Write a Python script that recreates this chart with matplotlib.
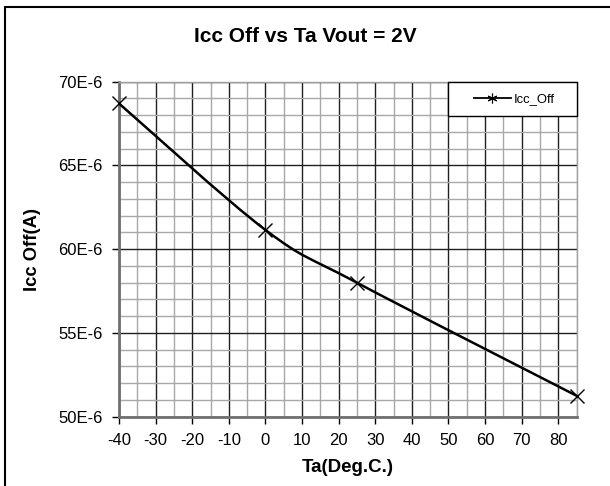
import numpy as np
import matplotlib.pyplot as plt
from matplotlib.path import Path
from matplotlib.patches import PathPatch, Rectangle
from matplotlib.lines import Line2D
from matplotlib.ticker import MultipleLocator, FuncFormatter

plt.rcParams['font.family'] = ['Liberation Sans', 'DejaVu Sans']
plt.rcParams['axes.unicode_minus'] = False

# data
ta = [-40, 0, 25, 85]
icc_off = [68.7e-6, 61.15e-6, 58.0e-6, 51.25e-6]

fig = plt.figure(figsize=(6.1, 4.86), dpi=100)
ax = fig.add_axes([119 / 610, 1 - 416.7 / 486, (576.6 - 119) / 610, (416.7 - 81.7) / 486])

# outer chart border (Excel style)
fig.patches.append(Rectangle((5 / 610, -0.05), 1.1, 1 - 6.5 / 486 + 0.05, transform=fig.transFigure,
                             fill=False, edgecolor='black', linewidth=1.5))

ax.set_xlim(-40, 85)
ax.set_ylim(50e-6, 70e-6)
ax.xaxis.set_major_locator(MultipleLocator(10))
ax.xaxis.set_minor_locator(MultipleLocator(5))
ax.yaxis.set_major_locator(MultipleLocator(5e-6))
ax.yaxis.set_minor_locator(MultipleLocator(1e-6))
ax.yaxis.set_major_formatter(FuncFormatter(lambda v, p: f"{v * 1e6:.0f}E-6"))

ax.grid(which='minor', color='#a8a8a8', linewidth=1.0)
ax.grid(which='major', color='#202020', linewidth=1.0)
ax.set_axisbelow(True)

for s in ['top', 'right']:
    ax.spines[s].set_color('#a0a0a0')
    ax.spines[s].set_linewidth(1.0)
for s in ['left', 'bottom']:
    ax.spines[s].set_color('#707070')
    ax.spines[s].set_linewidth(2.0)

ax.tick_params(which='major', direction='out', length=5, width=1, color='black', labelsize=12)
ax.tick_params(axis='x', pad=7)
ax.tick_params(axis='y', pad=7)
ax.tick_params(which='minor', length=0)

# smoothed line like Excel (Catmull-Rom as cubic Bezier)
pts = np.column_stack([ta, icc_off])
ext = np.vstack([pts[0], pts, pts[-1]])
verts = [tuple(pts[0])]
codes = [Path.MOVETO]
for i in range(1, len(ext) - 2):
    p0, p1, p2, p3 = ext[i - 1], ext[i], ext[i + 1], ext[i + 2]
    c1 = p1 + (p2 - p0) / 6
    c2 = p2 - (p3 - p1) / 6
    verts += [tuple(c1), tuple(c2), tuple(p2)]
    codes += [Path.CURVE4] * 3
ax.add_patch(PathPatch(Path(verts, codes), fill=False, edgecolor='black', linewidth=1.8, zorder=3))
ax.plot(ta, icc_off, linestyle='none', marker='x', markersize=10, markeredgewidth=1.0,
        color='black', zorder=4, clip_on=False)

# legend box drawn by hand, entries placed inside
ax.add_patch(Rectangle((0.719, 0.8985), 0.281, 0.1015, transform=ax.transAxes,
                       facecolor='white', edgecolor='black', linewidth=1.0, zorder=5,
                       clip_on=False))
handle = Line2D([], [], color='black', linewidth=1.3, marker=(6, 2, 0), markersize=7,
                markeredgewidth=0.8)
leg = ax.legend([handle], ['Icc_Off'], loc='center', fontsize=9.4, frameon=False,
                handlelength=2.8, handletextpad=0.25, borderpad=0,
                bbox_to_anchor=(0.864, 0.948))
leg.set_zorder(6)

ax.set_xlabel('Ta(Deg.C.)', fontsize=13.5, fontweight='bold', labelpad=8)
ax.set_ylabel('Icc Off(A)', fontsize=13.2, fontweight='bold', labelpad=12)
fig.text(0.5, 1 - 37 / 486, 'Icc Off vs Ta Vout = 2V', ha='center', va='center',
         fontsize=15, fontweight='bold')

fig.savefig('out.png', dpi=100)
